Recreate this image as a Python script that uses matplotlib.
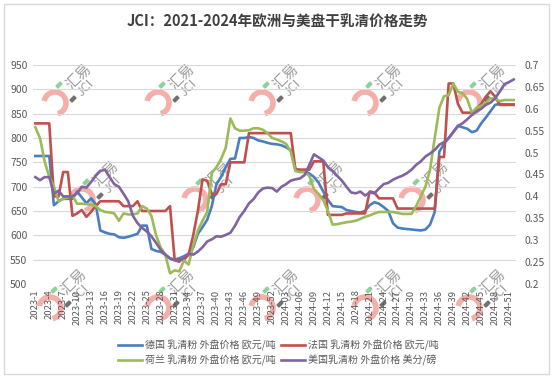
import matplotlib
matplotlib.use("Agg")
import matplotlib.pyplot as plt
from matplotlib.patches import Arc, Rectangle, Polygon
import numpy as np

plt.rcParams['font.family'] = ['Noto Sans CJK SC', 'DejaVu Sans']

# ---------------- data ----------------
weeks_2023 = [f"2023-{w}" for w in range(1, 53)]
weeks_2024 = [f"2024-{w:02d}" for w in range(1, 53)]
categories = weeks_2023 + weeks_2024

germany = [763, 763, 763, 763, 662, 670, 675, 675, 675, 690,
           678, 666, 676, 664, 610, 606, 603, 602, 596, 595,
           597, 600, 603, 620, 620, 572, 568, 566, 560, 553,
           550, 553, 557, 562, 575, 603, 617, 632, 660, 705,
           720, 740, 757, 758, 800, 800, 802, 800, 795, 793,
           790, 788, 787, 785, 781, 775, 736, 734, 732, 727,
           720, 708, 690, 673, 660, 659, 658, 652, 650, 648,
           647, 650, 662, 668, 665, 658, 650, 625, 616, 614,
           613, 612, 611, 610, 612, 622, 648, 772, 788, 800,
           812, 825, 822, 819, 812, 815, 830, 842, 855, 868,
           870, 869, 869, 869]

france = [830, 830, 830, 830, 680, 680, 730, 730, 640, 645,
          652, 638, 648, 660, 670, 670, 670, 670, 670, 660,
          660, 660, 670, 650, 650, 650, 650, 650, 650, 660,
          550, 550, 550, 560, 600, 650, 715, 712, 685, 685,
          705, 705, 750, 750, 750, 750, 810, 810, 810, 810,
          810, 810, 810, 810, 810, 810, 735, 735, 735, 735,
          752, 752, 752, 642, 642, 642, 642, 645, 645, 645,
          645, 645, 690, 688, 676, 676, 676, 676, 655, 655,
          655, 655, 655, 655, 655, 655, 655, 761, 761, 912,
          912, 870, 852, 852, 852, 860, 870, 885, 896, 885,
          868, 868, 868, 868]

netherlands = [822, 800, 752, 720, 700, 670, 675, 678, 682, 665,
               665, 664, 663, 660, 652, 648, 647, 645, 630, 645,
               643, 643, 645, 660, 655, 640, 600, 575, 560, 522,
               528, 526, 548, 540, 578, 610, 630, 648, 728, 740,
               757, 780, 840, 820, 815, 815, 816, 820, 820, 817,
               810, 800, 797, 793, 788, 772, 732, 730, 730, 722,
               695, 685, 672, 650, 622, 623, 625, 627, 628, 630,
               634, 638, 641, 645, 648, 648, 648, 648, 646, 644,
               644, 644, 660, 680, 700, 735, 800, 862, 886, 888,
               912, 895, 892, 880, 852, 862, 866, 872, 882, 880,
               876, 878, 878, 878]

usa = [0.444, 0.437, 0.444, 0.444, 0.406, 0.413, 0.400, 0.400, 0.400, 0.407,
       0.422, 0.420, 0.433, 0.447, 0.458, 0.461, 0.444, 0.428, 0.422, 0.406,
       0.389, 0.356, 0.339, 0.328, 0.320, 0.309, 0.294, 0.278, 0.267, 0.258,
       0.254, 0.251, 0.261, 0.269, 0.267, 0.274, 0.284, 0.297, 0.302, 0.309,
       0.308, 0.312, 0.317, 0.333, 0.353, 0.367, 0.384, 0.394, 0.409, 0.418,
       0.420, 0.419, 0.411, 0.422, 0.428, 0.436, 0.439, 0.441, 0.449, 0.472,
       0.496, 0.489, 0.482, 0.467, 0.458, 0.447, 0.436, 0.422, 0.409, 0.407,
       0.411, 0.402, 0.409, 0.407, 0.418, 0.428, 0.431, 0.438, 0.443, 0.447,
       0.453, 0.461, 0.472, 0.480, 0.491, 0.498, 0.506, 0.518, 0.524, 0.533,
       0.547, 0.561, 0.567, 0.576, 0.586, 0.594, 0.600, 0.609, 0.614, 0.624,
       0.639, 0.656, 0.661, 0.667]

labels = ["德国 乳清粉 外盘价格 欧元/吨", "法国 乳清粉 外盘价格 欧元/吨",
          "荷兰 乳清粉 外盘价格 欧元/吨", "美国乳清粉 外盘价格 美分/磅"]
colors = ["#4A7EC0", "#C0504D", "#9BBB59", "#8064A2"]
left_ticks = [500, 550, 600, 650, 700, 750, 800, 850, 900, 950]
right_ticks = [0.2, 0.25, 0.3, 0.35, 0.4, 0.45, 0.5, 0.55, 0.6, 0.65, 0.7]
title = "JCI：2021-2024年欧洲与美盘干乳清价格走势"

# ---------------- figure ----------------
W, H = 554, 380
fig = plt.figure(figsize=(W / 100, H / 100), dpi=100)

def fx(x):
    return x / W

def fy(y):
    return 1 - y / H

# outer frame
fig.patches.append(Rectangle((fx(4), fy(374)), fx(545), 370 / H, transform=fig.transFigure,
                             fill=False, edgecolor="#D9D9D9", lw=1.0, zorder=-5))

L, R, T, B = 33, 516, 65, 284
ax = fig.add_axes([fx(L), fy(B), (R - L) / W, (B - T) / H])
ax.patch.set_alpha(0)
ax2 = ax.twinx()
ax2.patch.set_alpha(0)

x = np.arange(len(categories))
h1, = ax.plot(x, germany, color=colors[0], lw=1.9, label=labels[0], zorder=3)
h2, = ax.plot(x, france, color=colors[1], lw=1.9, label=labels[1], zorder=3)
h3, = ax.plot(x, netherlands, color=colors[2], lw=1.9, label=labels[2], zorder=3)
h4, = ax2.plot(x, usa, color=colors[3], lw=1.9, label=labels[3], zorder=3)

ax.set_xlim(-0.5, len(categories) - 0.5)
ax.set_ylim(500, 950)
ax2.set_ylim(0.2, 0.7)
ax.set_yticks(left_ticks)
ax.set_yticklabels([str(v) for v in left_ticks])
ax2.set_yticks(right_ticks)
ax2.set_yticklabels([f"{v:g}" for v in right_ticks])

tick_idx = list(range(0, len(categories), 3))
ax.set_xticks(tick_idx)
ax.set_xticklabels([categories[i] for i in tick_idx], rotation=90, fontsize=6.8,
                   color="#595959")

ax.grid(axis="y", color="#D9D9D9", lw=0.8)
ax.set_axisbelow(True)
for a in (ax, ax2):
    for s in a.spines.values():
        s.set_visible(False)
    a.tick_params(length=0)
ax.tick_params(axis="y", labelsize=7.5, labelcolor="#595959", pad=4)
ax2.tick_params(axis="y", labelsize=7.5, labelcolor="#595959", pad=6)
ax.tick_params(axis="x", pad=4)

fig.text(0.5, fy(22), title, ha="center", va="center", fontsize=10.5,
         fontweight="bold", color="#404040")

# legend (row-wise order: 德国 法国 / 荷兰 美国)
fig.legend([h1, h3, h2, h4], [labels[0], labels[2], labels[1], labels[3]],
           loc="center", bbox_to_anchor=(fx(278), fy(353)), ncol=2,
           frameon=False, fontsize=7.2, handlelength=2.4, handletextpad=0.3,
           columnspacing=0.5, labelspacing=0.35, borderpad=0,
           labelcolor="#595959")

# watermarks
def logo(hx, hy):
    arc = Arc((fx(hx), fy(hy)), 22 / W, 22 / H, theta1=-80, theta2=165,
              transform=fig.transFigure, color="#F4A6A0", lw=4.0, zorder=-1, alpha=0.9)
    fig.patches.append(arc)
    g = Polygon([(fx(hx + 1), fy(hy - 17)), (fx(hx + 5), fy(hy - 21)),
                 (fx(hx + 7), fy(hy - 19)), (fx(hx + 3), fy(hy - 15))],
                closed=True, transform=fig.transFigure, color="#8FD19A", zorder=-1)
    fig.patches.append(g)
    d = Polygon([(fx(hx + 15), fy(hy - 3)), (fx(hx + 19), fy(hy - 7)),
                 (fx(hx + 21), fy(hy - 5)), (fx(hx + 17), fy(hy - 1))],
                closed=True, transform=fig.transFigure, color="#707070", zorder=-1)
    fig.patches.append(d)
    fig.text(fx(hx + 24), fy(hy - 26), "汇易", rotation=45, ha="center", va="center",
             fontsize=10.5, color="#8C8C8C", alpha=0.85, zorder=-1)
    fig.text(fx(hx + 31), fy(hy - 15), "JCI", rotation=45, ha="center", va="center",
             fontsize=9, color="#8C8C8C", alpha=0.85, zorder=-1)

for hx in (55, 158, 262, 365, 469):
    logo(hx, 103)
for hx in (82, 195, 307, 412):
    logo(hx, 200)
for hx in (50, 158, 262, 365, 469):
    logo(hx, 308)

fig.savefig("out.png", dpi=100)
